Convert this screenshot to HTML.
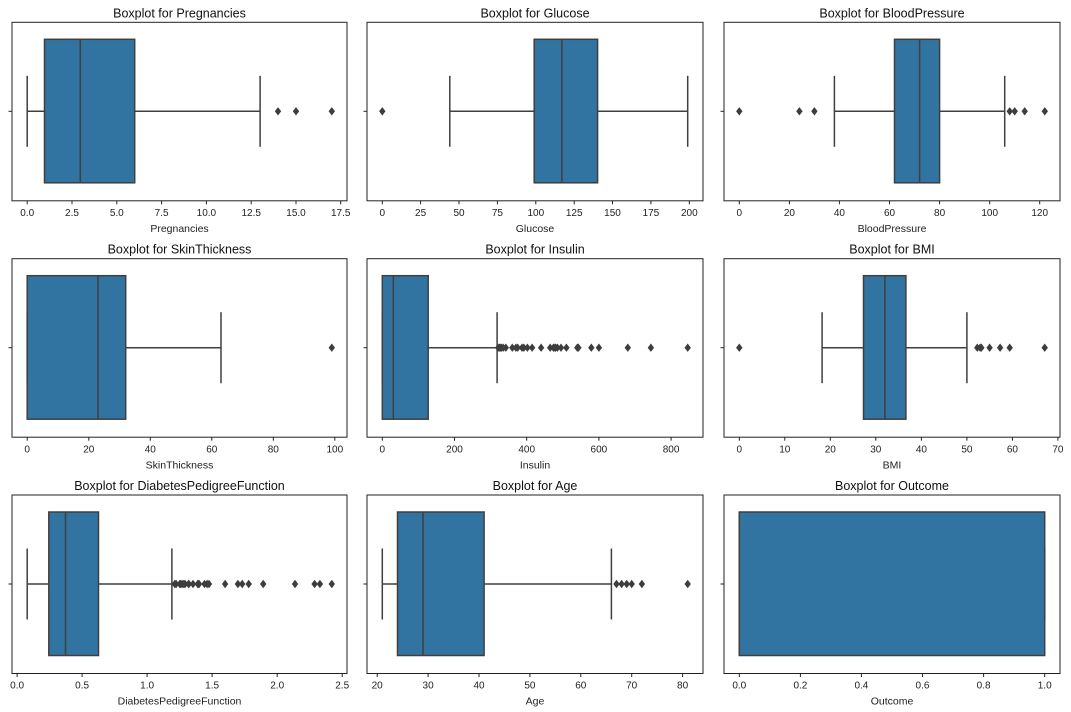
<!DOCTYPE html>
<html><head><meta charset="utf-8"><style>
html,body{margin:0;padding:0;background:#fff;}
svg{display:block;font-family:"Liberation Sans","DejaVu Sans",sans-serif;}
.ax{fill:none;stroke:#222;stroke-width:1}
.bx{fill:#3274a1;stroke:#3f3f3f;stroke-width:1.5}
.ln{stroke:#3f3f3f;stroke-width:1.5;fill:none}
.tk{stroke:#222;stroke-width:1}
.tl{font-size:10px;fill:#222;text-anchor:middle}
.al{font-size:10.5px;fill:#222;text-anchor:middle}
.ti{font-size:12.5px;fill:#111;text-anchor:middle}
</style></head><body>
<svg width="1071" height="712" viewBox="0 0 1071 712">
<defs><path id="d" d="M0,-4.2 L3.2,0 L0,4.2 L-3.2,0Z" fill="#3d3d3d"/></defs>

<!-- Row 1 -->
<g transform="translate(0,22.3)">
 <text class="ti" x="179.5" y="-5">Boxplot for Pregnancies</text>
 <line class="ln" x1="27.2" y1="89" x2="44.5" y2="89"/><line class="ln" x1="134.7" y1="89" x2="260.1" y2="89"/>
 <line class="ln" x1="27.2" y1="53.5" x2="27.2" y2="124.5"/><line class="ln" x1="260.1" y1="53.5" x2="260.1" y2="124.5"/>
 <rect class="bx" x="44.5" y="17" width="90.2" height="143.5"/>
 <line class="ln" x1="80.3" y1="17" x2="80.3" y2="160.5"/>
 <use href="#d" x="278" y="89"/><use href="#d" x="296" y="89"/><use href="#d" x="331.8" y="89"/>
 <rect class="ax" x="12" y="0" width="335" height="178.5"/>
 <line class="tk" x1="8.5" y1="89" x2="12" y2="89"/>
 <g class="tk"><line x1="27.2" y1="178.5" x2="27.2" y2="182"/><line x1="72" y1="178.5" x2="72" y2="182"/><line x1="116.8" y1="178.5" x2="116.8" y2="182"/><line x1="161.6" y1="178.5" x2="161.6" y2="182"/><line x1="206.4" y1="178.5" x2="206.4" y2="182"/><line x1="251.2" y1="178.5" x2="251.2" y2="182"/><line x1="296" y1="178.5" x2="296" y2="182"/><line x1="340.7" y1="178.5" x2="340.7" y2="182"/></g>
 <text class="tl" x="27.2" y="193.7">0.0</text><text class="tl" x="72" y="193.7">2.5</text><text class="tl" x="116.8" y="193.7">5.0</text><text class="tl" x="161.6" y="193.7">7.5</text><text class="tl" x="206.4" y="193.7">10.0</text><text class="tl" x="251.2" y="193.7">12.5</text><text class="tl" x="296" y="193.7">15.0</text><text class="tl" x="340.7" y="193.7">17.5</text>
 <text class="al" x="179.5" y="209.7">Pregnancies</text>

 <text class="ti" x="535" y="-5">Boxplot for Glucose</text>
 <line class="ln" x1="449.8" y1="89" x2="534.2" y2="89"/><line class="ln" x1="597.6" y1="89" x2="687.7" y2="89"/>
 <line class="ln" x1="449.8" y1="53.5" x2="449.8" y2="124.5"/><line class="ln" x1="687.7" y1="53.5" x2="687.7" y2="124.5"/>
 <rect class="bx" x="534.2" y="17" width="63.4" height="143.5"/>
 <line class="ln" x1="561.9" y1="17" x2="561.9" y2="160.5"/>
 <use href="#d" x="382.3" y="89"/>
 <rect class="ax" x="367" y="0" width="336" height="178.5"/>
 <line class="tk" x1="363.5" y1="89" x2="367" y2="89"/>
 <g class="tk"><line x1="382.3" y1="178.5" x2="382.3" y2="182"/><line x1="420.6" y1="178.5" x2="420.6" y2="182"/><line x1="459" y1="178.5" x2="459" y2="182"/><line x1="497.4" y1="178.5" x2="497.4" y2="182"/><line x1="535.8" y1="178.5" x2="535.8" y2="182"/><line x1="574.2" y1="178.5" x2="574.2" y2="182"/><line x1="612.5" y1="178.5" x2="612.5" y2="182"/><line x1="650.9" y1="178.5" x2="650.9" y2="182"/><line x1="689.3" y1="178.5" x2="689.3" y2="182"/></g>
 <text class="tl" x="382.3" y="193.7">0</text><text class="tl" x="420.6" y="193.7">25</text><text class="tl" x="459" y="193.7">50</text><text class="tl" x="497.4" y="193.7">75</text><text class="tl" x="535.8" y="193.7">100</text><text class="tl" x="574.2" y="193.7">125</text><text class="tl" x="612.5" y="193.7">150</text><text class="tl" x="650.9" y="193.7">175</text><text class="tl" x="689.3" y="193.7">200</text>
 <text class="al" x="535" y="209.7">Glucose</text>

 <text class="ti" x="892" y="-5">Boxplot for BloodPressure</text>
 <line class="ln" x1="834.4" y1="89" x2="894.5" y2="89"/><line class="ln" x1="939.6" y1="89" x2="1004.7" y2="89"/>
 <line class="ln" x1="834.4" y1="53.5" x2="834.4" y2="124.5"/><line class="ln" x1="1004.7" y1="53.5" x2="1004.7" y2="124.5"/>
 <rect class="bx" x="894.5" y="17" width="45.1" height="143.5"/>
 <line class="ln" x1="919.6" y1="17" x2="919.6" y2="160.5"/>
 <use href="#d" x="739.3" y="89"/><use href="#d" x="799.4" y="89"/><use href="#d" x="814.4" y="89"/><use href="#d" x="1009.7" y="89"/><use href="#d" x="1014.7" y="89"/><use href="#d" x="1024.7" y="89"/><use href="#d" x="1044.8" y="89"/>
 <rect class="ax" x="724" y="0" width="336" height="178.5"/>
 <line class="tk" x1="720.5" y1="89" x2="724" y2="89"/>
 <g class="tk"><line x1="739.3" y1="178.5" x2="739.3" y2="182"/><line x1="789.4" y1="178.5" x2="789.4" y2="182"/><line x1="839.4" y1="178.5" x2="839.4" y2="182"/><line x1="889.5" y1="178.5" x2="889.5" y2="182"/><line x1="939.6" y1="178.5" x2="939.6" y2="182"/><line x1="989.7" y1="178.5" x2="989.7" y2="182"/><line x1="1039.7" y1="178.5" x2="1039.7" y2="182"/></g>
 <text class="tl" x="739.3" y="193.7">0</text><text class="tl" x="789.4" y="193.7">20</text><text class="tl" x="839.4" y="193.7">40</text><text class="tl" x="889.5" y="193.7">60</text><text class="tl" x="939.6" y="193.7">80</text><text class="tl" x="989.7" y="193.7">100</text><text class="tl" x="1039.7" y="193.7">120</text>
 <text class="al" x="892" y="209.7">BloodPressure</text>
</g>

<!-- Row 2 -->
<g transform="translate(0,258.7)">
 <text class="ti" x="179.5" y="-5">Boxplot for SkinThickness</text>
 <line class="ln" x1="125.7" y1="89" x2="221" y2="89"/>
 <line class="ln" x1="27.2" y1="53.5" x2="27.2" y2="124.5"/><line class="ln" x1="221" y1="53.5" x2="221" y2="124.5"/>
 <rect class="bx" x="27.2" y="17" width="98.5" height="143.5"/>
 <line class="ln" x1="98" y1="17" x2="98" y2="160.5"/>
 <use href="#d" x="331.8" y="89"/>
 <rect class="ax" x="12" y="0" width="335" height="178.5"/>
 <line class="tk" x1="8.5" y1="89" x2="12" y2="89"/>
 <g class="tk"><line x1="27.2" y1="178.5" x2="27.2" y2="182"/><line x1="88.8" y1="178.5" x2="88.8" y2="182"/><line x1="150.3" y1="178.5" x2="150.3" y2="182"/><line x1="211.8" y1="178.5" x2="211.8" y2="182"/><line x1="273.3" y1="178.5" x2="273.3" y2="182"/><line x1="334.8" y1="178.5" x2="334.8" y2="182"/></g>
 <text class="tl" x="27.2" y="193.7">0</text><text class="tl" x="88.8" y="193.7">20</text><text class="tl" x="150.3" y="193.7">40</text><text class="tl" x="211.8" y="193.7">60</text><text class="tl" x="273.3" y="193.7">80</text><text class="tl" x="334.8" y="193.7">100</text>
 <text class="al" x="179.5" y="209.7">SkinThickness</text>

 <text class="ti" x="535" y="-5">Boxplot for Insulin</text>
 <line class="ln" x1="428.2" y1="89" x2="497.1" y2="89"/>
 <line class="ln" x1="382.3" y1="53.5" x2="382.3" y2="124.5"/><line class="ln" x1="497.1" y1="53.5" x2="497.1" y2="124.5"/>
 <rect class="bx" x="382.3" y="17" width="45.9" height="143.5"/>
 <line class="ln" x1="393.3" y1="17" x2="393.3" y2="160.5"/>
 <use href="#d" x="498.2" y="89"/><use href="#d" x="499.6" y="89"/><use href="#d" x="500.7" y="89"/><use href="#d" x="501.4" y="89"/><use href="#d" x="503.2" y="89"/><use href="#d" x="505.8" y="89"/><use href="#d" x="512.3" y="89"/><use href="#d" x="515.9" y="89"/><use href="#d" x="517.7" y="89"/><use href="#d" x="522" y="89"/><use href="#d" x="523.8" y="89"/><use href="#d" x="527.4" y="89"/><use href="#d" x="532.1" y="89"/><use href="#d" x="541.1" y="89"/><use href="#d" x="550.2" y="89"/><use href="#d" x="553.4" y="89"/><use href="#d" x="554.9" y="89"/><use href="#d" x="555.6" y="89"/><use href="#d" x="557.4" y="89"/><use href="#d" x="561" y="89"/><use href="#d" x="566.4" y="89"/><use href="#d" x="577.3" y="89"/><use href="#d" x="578.4" y="89"/><use href="#d" x="591.3" y="89"/><use href="#d" x="598.9" y="89"/><use href="#d" x="627.8" y="89"/><use href="#d" x="650.9" y="89"/><use href="#d" x="687.7" y="89"/>
 <rect class="ax" x="367" y="0" width="336" height="178.5"/>
 <line class="tk" x1="363.5" y1="89" x2="367" y2="89"/>
 <g class="tk"><line x1="382.3" y1="178.5" x2="382.3" y2="182"/><line x1="454.5" y1="178.5" x2="454.5" y2="182"/><line x1="526.7" y1="178.5" x2="526.7" y2="182"/><line x1="598.9" y1="178.5" x2="598.9" y2="182"/><line x1="671.1" y1="178.5" x2="671.1" y2="182"/></g>
 <text class="tl" x="382.3" y="193.7">0</text><text class="tl" x="454.5" y="193.7">200</text><text class="tl" x="526.7" y="193.7">400</text><text class="tl" x="598.9" y="193.7">600</text><text class="tl" x="671.1" y="193.7">800</text>
 <text class="al" x="535" y="209.7">Insulin</text>

 <text class="ti" x="892" y="-5">Boxplot for BMI</text>
 <line class="ln" x1="822.1" y1="89" x2="863.5" y2="89"/><line class="ln" x1="905.9" y1="89" x2="966.9" y2="89"/>
 <line class="ln" x1="822.1" y1="53.5" x2="822.1" y2="124.5"/><line class="ln" x1="966.9" y1="53.5" x2="966.9" y2="124.5"/>
 <rect class="bx" x="863.5" y="17" width="42.4" height="143.5"/>
 <line class="ln" x1="884.9" y1="17" x2="884.9" y2="160.5"/>
 <use href="#d" x="739.3" y="89"/><use href="#d" x="977.3" y="89"/><use href="#d" x="980.1" y="89"/><use href="#d" x="981.4" y="89"/><use href="#d" x="989.6" y="89"/><use href="#d" x="1000.1" y="89"/><use href="#d" x="1009.7" y="89"/><use href="#d" x="1044.7" y="89"/>
 <rect class="ax" x="724" y="0" width="336" height="178.5"/>
 <line class="tk" x1="720.5" y1="89" x2="724" y2="89"/>
 <g class="tk"><line x1="739.3" y1="178.5" x2="739.3" y2="182"/><line x1="784.8" y1="178.5" x2="784.8" y2="182"/><line x1="830.3" y1="178.5" x2="830.3" y2="182"/><line x1="875.8" y1="178.5" x2="875.8" y2="182"/><line x1="921.4" y1="178.5" x2="921.4" y2="182"/><line x1="966.9" y1="178.5" x2="966.9" y2="182"/><line x1="1012.4" y1="178.5" x2="1012.4" y2="182"/><line x1="1057.9" y1="178.5" x2="1057.9" y2="182"/></g>
 <text class="tl" x="739.3" y="193.7">0</text><text class="tl" x="784.8" y="193.7">10</text><text class="tl" x="830.3" y="193.7">20</text><text class="tl" x="875.8" y="193.7">30</text><text class="tl" x="921.4" y="193.7">40</text><text class="tl" x="966.9" y="193.7">50</text><text class="tl" x="1012.4" y="193.7">60</text><text class="tl" x="1057.9" y="193.7">70</text>
 <text class="al" x="892" y="209.7">BMI</text>
</g>

<!-- Row 3 -->
<g transform="translate(0,495)">
 <text class="ti" x="179.5" y="-5">Boxplot for DiabetesPedigreeFunction</text>
 <line class="ln" x1="27.2" y1="89" x2="48.8" y2="89"/><line class="ln" x1="98.5" y1="89" x2="171.9" y2="89"/>
 <line class="ln" x1="27.2" y1="53.5" x2="27.2" y2="124.5"/><line class="ln" x1="171.9" y1="53.5" x2="171.9" y2="124.5"/>
 <rect class="bx" x="48.8" y="17" width="49.7" height="143.5"/>
 <line class="ln" x1="65.5" y1="17" x2="65.5" y2="160.5"/>
 <use href="#d" x="174.8" y="89"/><use href="#d" x="176.1" y="89"/><use href="#d" x="179.8" y="89"/><use href="#d" x="180.7" y="89"/><use href="#d" x="182" y="89"/><use href="#d" x="183.8" y="89"/><use href="#d" x="185.1" y="89"/><use href="#d" x="188.5" y="89"/><use href="#d" x="188.9" y="89"/><use href="#d" x="193" y="89"/><use href="#d" x="197.8" y="89"/><use href="#d" x="198.4" y="89"/><use href="#d" x="199.1" y="89"/><use href="#d" x="204.5" y="89"/><use href="#d" x="207.1" y="89"/><use href="#d" x="209" y="89"/><use href="#d" x="225.1" y="89"/><use href="#d" x="237.9" y="89"/><use href="#d" x="242.2" y="89"/><use href="#d" x="248.7" y="89"/><use href="#d" x="263.2" y="89"/><use href="#d" x="295" y="89"/><use href="#d" x="314.6" y="89"/><use href="#d" x="319.9" y="89"/><use href="#d" x="331.8" y="89"/>
 <rect class="ax" x="12" y="0" width="335" height="178.5"/>
 <line class="tk" x1="8.5" y1="89" x2="12" y2="89"/>
 <g class="tk"><line x1="17.1" y1="178.5" x2="17.1" y2="182"/><line x1="82.1" y1="178.5" x2="82.1" y2="182"/><line x1="147.1" y1="178.5" x2="147.1" y2="182"/><line x1="212.1" y1="178.5" x2="212.1" y2="182"/><line x1="277.2" y1="178.5" x2="277.2" y2="182"/><line x1="342.2" y1="178.5" x2="342.2" y2="182"/></g>
 <text class="tl" x="17.1" y="193.7">0.0</text><text class="tl" x="82.1" y="193.7">0.5</text><text class="tl" x="147.1" y="193.7">1.0</text><text class="tl" x="212.1" y="193.7">1.5</text><text class="tl" x="277.2" y="193.7">2.0</text><text class="tl" x="342.2" y="193.7">2.5</text>
 <text class="al" x="179.5" y="209.7">DiabetesPedigreeFunction</text>

 <text class="ti" x="535" y="-5">Boxplot for Age</text>
 <line class="ln" x1="382.3" y1="89" x2="397.5" y2="89"/><line class="ln" x1="484.1" y1="89" x2="611.4" y2="89"/>
 <line class="ln" x1="382.3" y1="53.5" x2="382.3" y2="124.5"/><line class="ln" x1="611.4" y1="53.5" x2="611.4" y2="124.5"/>
 <rect class="bx" x="397.5" y="17" width="86.6" height="143.5"/>
 <line class="ln" x1="423" y1="17" x2="423" y2="160.5"/>
 <use href="#d" x="616.5" y="89"/><use href="#d" x="621.6" y="89"/><use href="#d" x="626.7" y="89"/><use href="#d" x="631.7" y="89"/><use href="#d" x="641.9" y="89"/><use href="#d" x="687.7" y="89"/>
 <rect class="ax" x="367" y="0" width="336" height="178.5"/>
 <line class="tk" x1="363.5" y1="89" x2="367" y2="89"/>
 <g class="tk"><line x1="377.2" y1="178.5" x2="377.2" y2="182"/><line x1="428.1" y1="178.5" x2="428.1" y2="182"/><line x1="479" y1="178.5" x2="479" y2="182"/><line x1="529.9" y1="178.5" x2="529.9" y2="182"/><line x1="580.8" y1="178.5" x2="580.8" y2="182"/><line x1="631.7" y1="178.5" x2="631.7" y2="182"/><line x1="682.6" y1="178.5" x2="682.6" y2="182"/></g>
 <text class="tl" x="377.2" y="193.7">20</text><text class="tl" x="428.1" y="193.7">30</text><text class="tl" x="479" y="193.7">40</text><text class="tl" x="529.9" y="193.7">50</text><text class="tl" x="580.8" y="193.7">60</text><text class="tl" x="631.7" y="193.7">70</text><text class="tl" x="682.6" y="193.7">80</text>
 <text class="al" x="535" y="209.7">Age</text>

 <text class="ti" x="892" y="-5">Boxplot for Outcome</text>
 <rect class="bx" x="739.3" y="17" width="305.4" height="143.5"/>
 <line class="ln" x1="739.3" y1="17" x2="739.3" y2="160.5"/>
 <line class="ln" x1="1044.7" y1="53.5" x2="1044.7" y2="124.5"/>
 <rect class="ax" x="724" y="0" width="336" height="178.5"/>
 <line class="tk" x1="720.5" y1="89" x2="724" y2="89"/>
 <g class="tk"><line x1="739.3" y1="178.5" x2="739.3" y2="182"/><line x1="800.4" y1="178.5" x2="800.4" y2="182"/><line x1="861.4" y1="178.5" x2="861.4" y2="182"/><line x1="922.5" y1="178.5" x2="922.5" y2="182"/><line x1="983.6" y1="178.5" x2="983.6" y2="182"/><line x1="1044.7" y1="178.5" x2="1044.7" y2="182"/></g>
 <text class="tl" x="739.3" y="193.7">0.0</text><text class="tl" x="800.4" y="193.7">0.2</text><text class="tl" x="861.4" y="193.7">0.4</text><text class="tl" x="922.5" y="193.7">0.6</text><text class="tl" x="983.6" y="193.7">0.8</text><text class="tl" x="1044.7" y="193.7">1.0</text>
 <text class="al" x="892" y="209.7">Outcome</text>
</g>
</svg>
</body></html>
